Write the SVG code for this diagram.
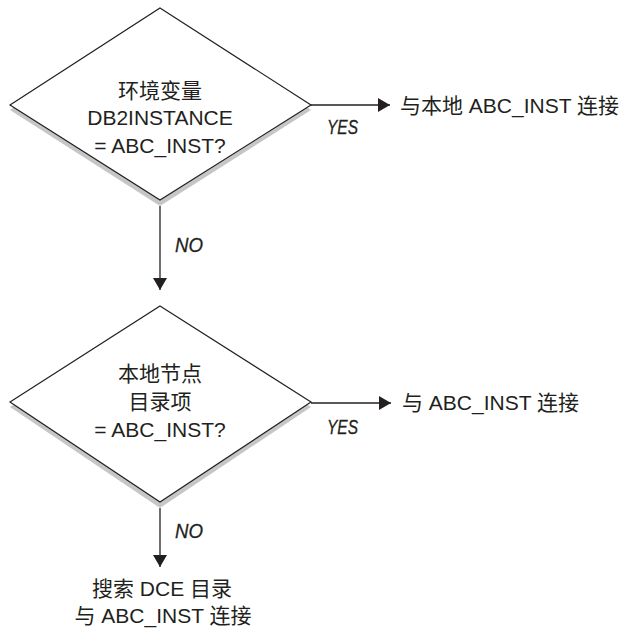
<svg xmlns="http://www.w3.org/2000/svg" width="625" height="631" viewBox="0 0 625 631">
<defs>
<marker id="arr" markerWidth="12" markerHeight="14" refX="12" refY="7" orient="auto" markerUnits="userSpaceOnUse">
<path d="M0,0 L12,7 L0,14 Z" fill="#231f20"/>
</marker>
</defs>
<style>
.shadow{fill:#c6c6c6;stroke:none}
.dia{fill:#ffffff;stroke:#231f20;stroke-width:1.2}
.t{font-family:"Liberation Sans","Noto Sans CJK SC",sans-serif;font-size:21px;fill:#231f20;text-anchor:middle}
.tl{font-family:"Liberation Sans","Noto Sans CJK SC",sans-serif;font-size:21px;fill:#231f20}
.lab{font-family:"Liberation Sans",sans-serif;font-size:21px;font-style:italic;fill:#231f20;stroke:#231f20;stroke-width:0.3}
.ln{stroke:#231f20;stroke-width:1.3;fill:none}
</style>
<rect width="625" height="631" fill="#ffffff"/>
<g id="decision1">
<polygon class="shadow" points="160,13 311,110 160,206 10,110"/>
<polygon class="dia" points="160,8 311,105 160,200 10,105"/>
<text class="t" x="160" y="98">环境变量</text>
<text class="t" x="160" y="125">DB2INSTANCE</text>
<text class="t" x="160" y="153">= ABC_INST?</text>
</g>
<g id="decision2">
<polygon class="shadow" points="160,311 311,407 160,508 10,407"/>
<polygon class="dia" points="160,306 311,402 160,502 10,402"/>
<text class="t" x="160" y="381">本地节点</text>
<text class="t" x="160" y="409">目录项</text>
<text class="t" x="160" y="437">= ABC_INST?</text>
</g>
<g id="result1">
<text class="tl" x="400" y="113">与本地 ABC_INST 连接</text>
</g>
<g id="result2">
<text class="tl" x="402" y="410">与 ABC_INST 连接</text>
</g>
<g id="result3">
<text class="t" x="162" y="596">搜索 DCE 目录</text>
<text class="t" x="163" y="623">与 ABC_INST 连接</text>
</g>
<g id="connectors">
<line class="ln" x1="311" y1="105" x2="390" y2="105" marker-end="url(#arr)"/>
<line class="ln" x1="160" y1="206" x2="160" y2="290" marker-end="url(#arr)"/>
<line class="ln" x1="311" y1="403" x2="391" y2="403" marker-end="url(#arr)"/>
<line class="ln" x1="160" y1="508" x2="160" y2="567" marker-end="url(#arr)"/>
<text class="lab" x="327" y="134" textLength="31" lengthAdjust="spacingAndGlyphs">YES</text>
<text class="lab" x="175" y="252" textLength="28" lengthAdjust="spacingAndGlyphs">NO</text>
<text class="lab" x="327" y="434" textLength="31" lengthAdjust="spacingAndGlyphs">YES</text>
<text class="lab" x="175" y="538" textLength="28" lengthAdjust="spacingAndGlyphs">NO</text>
</g>
</svg>
